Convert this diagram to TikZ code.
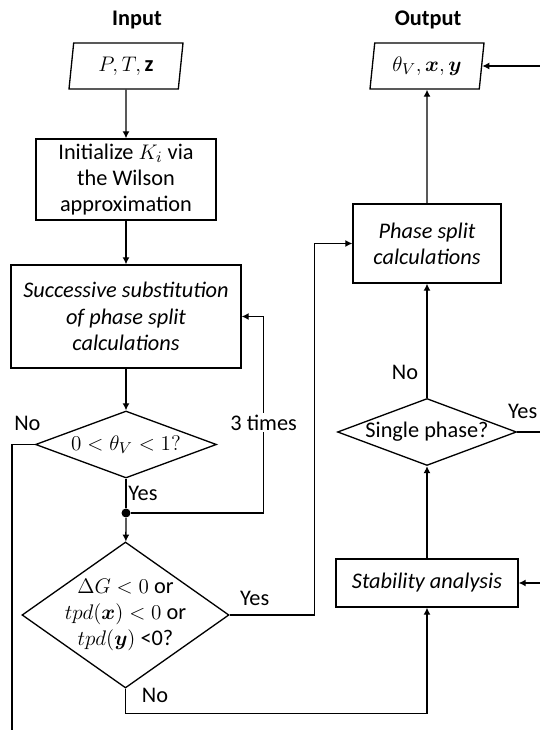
\documentclass[tikz,border=0pt]{standalone}
\usepackage{amsmath}
\usepackage{fontspec}
\setmainfont{Carlito}
\usetikzlibrary{shapes.geometric, arrows.meta}
\newcommand{\figfont}{\fontsize{12.7}{14.9}\selectfont}

\begin{document}
\begin{tikzpicture}[>={Latex[length=4pt,width=4pt]}, line width=0.75pt, font=\figfont,
		procbox/.style={draw, rectangle, align=center, inner sep=2pt},
		io/.style={draw, trapezium, trapezium left angle=78, trapezium right angle=102,
			trapezium stretches body, minimum width=2.28cm, minimum height=0.92cm, inner sep=1pt},
		decision/.style={draw, diamond, aspect=2.7, inner sep=0pt, align=center},
		lbl/.style={inner sep=1pt}]
			\useasboundingbox (0,0) rectangle (10.8,14.64);
			\clip (0,0) rectangle (10.8,14.64);

			% Headings
			\node[lbl, font=\figfont\bfseries] (inlbl) at (2.74,14.24) {Input};
			\node[lbl, font=\figfont\bfseries] (outlbl) at (8.56,14.24) {Output};

			% Left column
			\node[io] (in) at (2.52,13.32) {$P,T,\mathbf{z}$};
			\node[procbox, minimum width=3.6cm, minimum height=1.62cm] (init) at (2.52,11.05) {Initialize $K_i$ via\\the Wilson\\approximation};
			\node[procbox, font=\figfont\itshape, minimum width=4.6cm, minimum height=2.06cm] (succ) at (2.52,8.31) {Successive substitution\\of phase split\\calculations};
			\node[decision, minimum width=3.62cm, minimum height=1.34cm] (vap) at (2.52,5.75) {$0<\theta_V<1?$};
			\node[circle, fill, inner sep=0pt, minimum size=0.18cm] (dot) at (2.52,4.38) {};
			\node[decision, minimum width=4.14cm, minimum height=2.92cm] (tpd) at (2.51,2.34) {};
			\node[align=center, inner sep=0pt] (tpdtext) at (tpd) {$\Delta G<0$ or\\$tpd(\boldsymbol{x})<0$ or\\$tpd(\boldsymbol{y})$ <0?};
			\coordinate (exit) at (0.24,0.04);

			% Right column
			\node[io] (out) at (8.54,13.32) {$\theta_V,\boldsymbol{x},\boldsymbol{y}$};
			\node[procbox, font=\figfont\itshape, minimum width=2.96cm, minimum height=1.58cm] (split) at (8.54,9.77) {Phase split\\calculations};
			\node[decision, minimum width=3.58cm, minimum height=1.34cm] (single) at (8.54,6.0) {Single phase?};
			\node[procbox, font=\figfont\itshape, minimum width=3.64cm, minimum height=0.96cm] (stab) at (8.54,2.98) {Stability analysis};
			\coordinate (rail) at (10.9,6.0);

			% Left flow
			\draw[->] (in) -- (init);
			\draw[->] (init) -- (succ);
			\draw[->] (succ) -- (vap);
			\draw (vap) -- (dot) node[lbl, pos=0.5, right] (yes1) {Yes};
			\draw[->] (dot) -- (tpd);
			\draw[->] (dot) -| ([xshift=0.44cm]succ.east) node[lbl, pos=0.73, fill=white] (three) {3 times} -- (succ.east);
			\draw (vap.west) -| (exit) node[lbl, pos=0, xshift=-0.15cm, yshift=0.43cm] (no1) {No};

			% Right flow
			\draw[->] (tpd.east) -| ([xshift=-0.76cm]split.west) node[lbl, pos=0, xshift=0.5cm, yshift=0.34cm] (yes2) {Yes} -- (split.west);
			\draw[->] (tpd.south) -- ++(0,-0.5) node[lbl, pos=0, xshift=0.59cm, yshift=-0.14cm] (no2) {No} -| (stab.south);
			\draw[->] (stab) -- (single);
			\draw[->] (single) -- (split) node[lbl, pos=0, xshift=-0.44cm, yshift=0.51cm] (no3) {No};
			\draw[->] (split) -- (out);

			% Loop on the right edge
			\draw (single.east) -- (rail) node[lbl, pos=0, xshift=0.11cm, yshift=0.42cm] (yes3) {Yes};
			\draw[->] (rail) |- (out.east);
			\draw[->] (rail) |- (stab.east);
		\end{tikzpicture}
\end{document}
